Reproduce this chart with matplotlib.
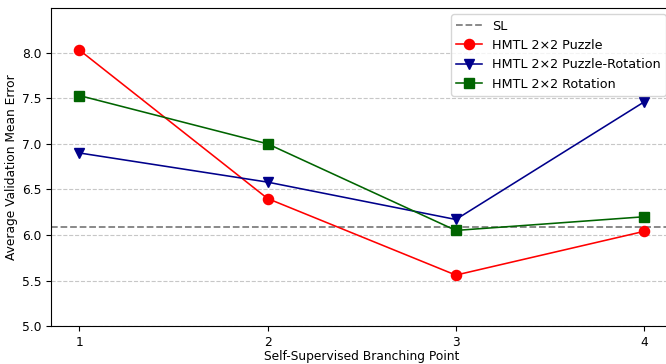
import numpy as np
import matplotlib.pyplot as plt

# Dữ liệu
branch_points = [1, 2, 3, 4]
sl_error = 6.09
puzzle = [8.03, 6.40, 5.56, 6.04]
puzzle_rotation = [6.90, 6.58, 6.17, 7.46]
rotation = [7.53, 7.00, 6.05, 6.20]

fig = plt.figure(figsize=(6.66, 3.64), dpi=100)
ax = fig.add_axes([0.0766, 0.104, 0.933, 0.874])

ax.axhline(sl_error, color='gray', linestyle='--', linewidth=1.3, label='SL')
ax.plot(branch_points, puzzle, color='red', marker='o', markersize=7.3, linewidth=1.15,
        label='HMTL 2\u00d72 Puzzle')
ax.plot(branch_points, puzzle_rotation, color='darkblue', marker='v', markersize=7.3, linewidth=1.15,
        label='HMTL 2\u00d72 Puzzle-Rotation')
ax.plot(branch_points, rotation, color='darkgreen', marker='s', markersize=7.3, linewidth=1.15,
        label='HMTL 2\u00d72 Rotation')

ax.set_xticks(branch_points)
ax.set_ylim(5.0, 8.49)
ax.set_yticks(np.arange(5.0, 8.01, 0.5))
ax.tick_params(labelsize=8.8)
ax.set_xlabel('Self-Supervised Branching Point', fontsize=8.8, labelpad=1)
ax.set_ylabel('Average Validation Mean Error', fontsize=8.8, labelpad=3)
ax.grid(True, axis='y', linestyle='--', alpha=0.7)
ax.legend(loc='upper right', fontsize=9.2)

fig.savefig('out.png', dpi=100)
